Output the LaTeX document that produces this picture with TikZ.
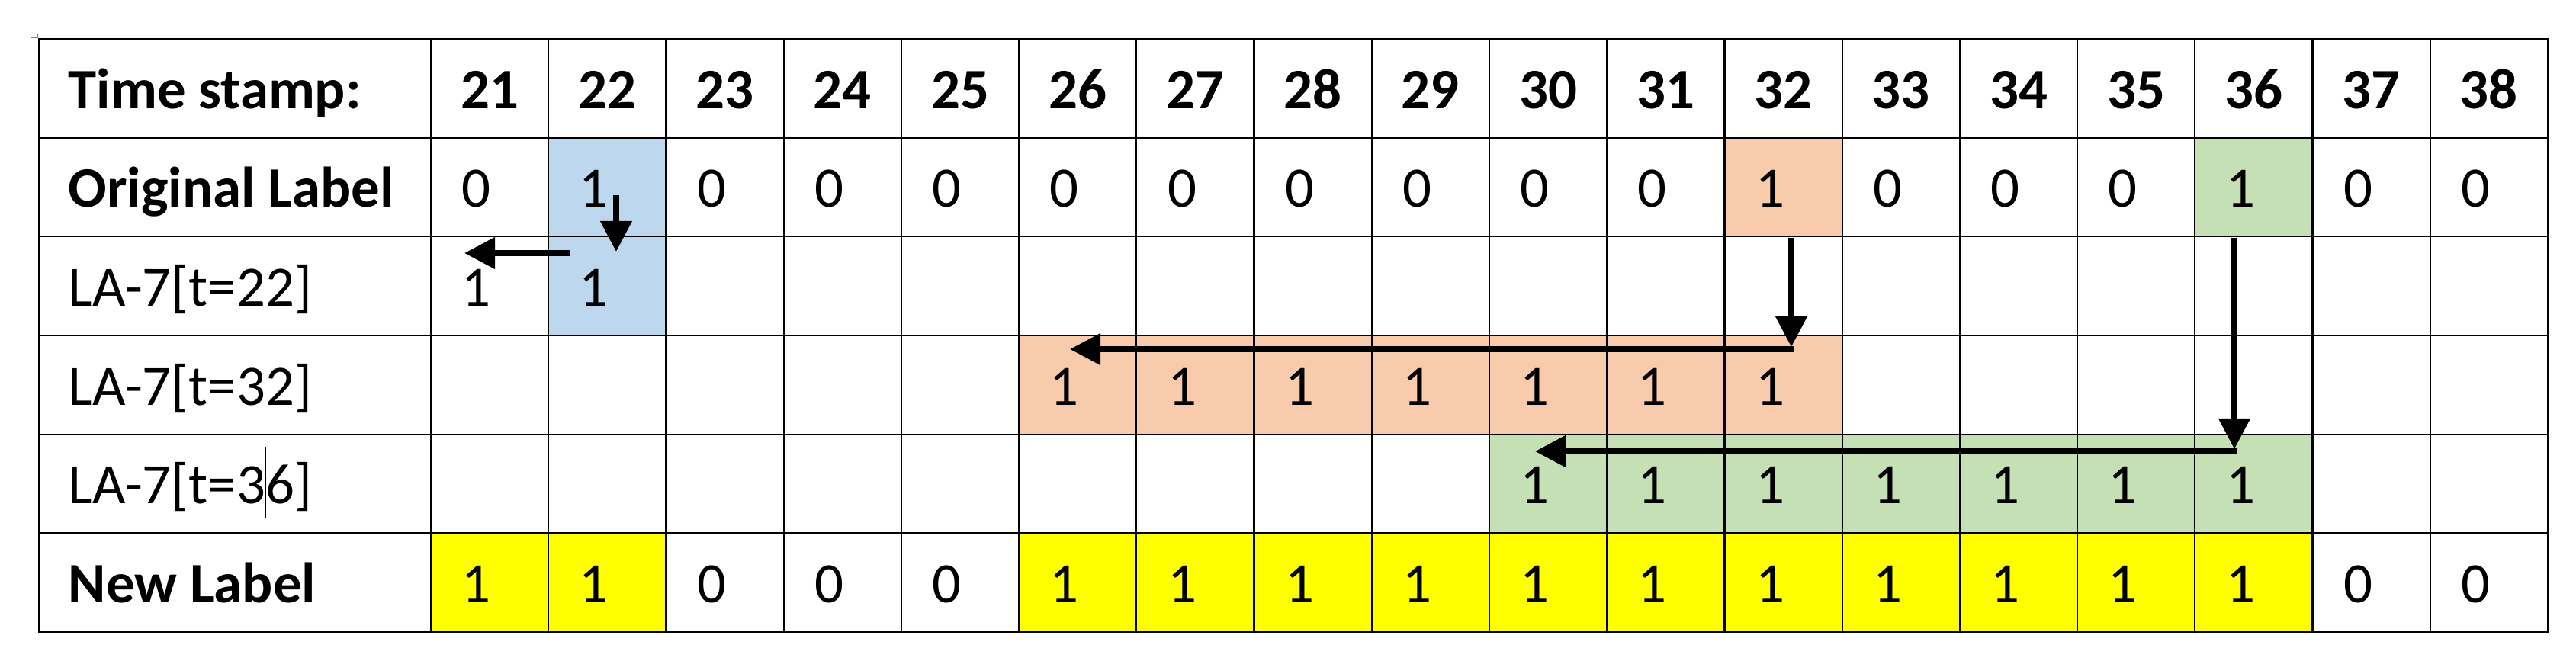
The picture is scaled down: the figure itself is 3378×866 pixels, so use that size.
\documentclass[tikz,border=0pt]{standalone}
\usepackage{fontspec}
\setmainfont{Carlito}
\usetikzlibrary{arrows.meta}
\definecolor{cblue}{RGB}{189,215,238}
\definecolor{corange}{RGB}{248,203,173}
\definecolor{cgreen}{RGB}{197,224,180}
\definecolor{cyellow}{RGB}{255,255,0}
\newcommand{\CX}[1]{565+#1*154.222}
\newcommand{\RY}[1]{51+#1*129.667}
\newcommand{\BY}[1]{142.3+#1*129.667}
\begin{document}
\begin{tikzpicture}[x=0.01cm,y=-0.01cm,
  gridline/.style={line width=0.022cm},
  outerline/.style={line width=0.028cm},
  lbl/.style={anchor=base west,inner sep=0pt,font=\fontsize{21.3pt}{25pt}\selectfont},
  hdr/.style={anchor=base,inner sep=0pt,font=\fontsize{21.3pt}{25pt}\selectfont\bfseries},
  val/.style={anchor=base west,inner sep=0pt,font=\fontsize{21.3pt}{25pt}\selectfont},
  arr/.style={line width=0.075cm,-{Triangle[length=0.4cm,width=0.4cm]}},
]
\useasboundingbox (0,0) rectangle (3378,866);
% fills
\fill[cblue] (\CX{1},\RY{1}) rectangle (\CX{2},\RY{3});
\fill[corange] (\CX{11},\RY{1}) rectangle (\CX{12},\RY{2});
\fill[corange] (\CX{5},\RY{3}) rectangle (\CX{12},\RY{4});
\fill[cgreen] (\CX{15},\RY{1}) rectangle (\CX{16},\RY{2});
\fill[cgreen] (\CX{9},\RY{4}) rectangle (\CX{16},\RY{5});
\fill[cyellow] (\CX{0},\RY{5}) rectangle (\CX{2},\RY{6});
\fill[cyellow] (\CX{5},\RY{5}) rectangle (\CX{16},\RY{6});
% grid
\foreach \i in {1,...,5} \draw[gridline] (51,\RY{\i}) -- (3341,\RY{\i});
\foreach \c in {0,...,17} \draw[gridline] (\CX{\c},51) -- (\CX{\c},829);
\draw[outerline] (51,51) rectangle (3341,829);
\draw[gray,line width=0.012cm] (41,49) -- (49.5,49) -- (49.5,44);
% row labels
\node[lbl,font=\fontsize{21.3pt}{25pt}\selectfont\bfseries] (lh) at (89,\BY{0}) {Time stamp:};
\node[lbl,font=\fontsize{21.3pt}{25pt}\selectfont\bfseries] (lo) at (89,\BY{1}) {Original Label};
\node[lbl] (la) at (89,\BY{2}) {LA-7[t=22]};
\node[lbl] (lb) at (89,\BY{3}) {LA-7[t=32]};
\node[lbl] (lc) at (89,\BY{4}) {LA-7[t=3\makebox[0pt]{\rule[-0.19cm]{0.018cm}{0.94cm}}6]};
\node[lbl,font=\fontsize{21.3pt}{25pt}\selectfont\bfseries] (ln) at (89,\BY{5}) {New Label};
% header numbers
\foreach \c [evaluate=\c as \t using int(21+\c)] in {0,...,17}
  \node[hdr] (h\c) at (\CX{\c}+77.1,\BY{0}) {\t};
% original label
\foreach \v [count=\c from 0] in {0,1,0,0,0,0,0,0,0,0,0,1,0,0,0,1,0,0}
  \node[val] (o\c) at (\CX{\c}+40,\BY{1}) {\v};
% LA rows
\foreach \c in {0,1} \node[val] (a\c) at (\CX{\c}+40,\BY{2}) {1};
\foreach \c in {5,...,11} \node[val] (b\c) at (\CX{\c}+40,\BY{3}) {1};
\foreach \c in {9,...,15} \node[val] (g\c) at (\CX{\c}+40,\BY{4}) {1};
% new label
\foreach \v [count=\c from 0] in {1,1,0,0,0,1,1,1,1,1,1,1,1,1,1,1,0,0}
  \node[val] (n\c) at (\CX{\c}+40,\BY{5}) {\v};
% arrows
\coordinate (bvs) at (808,256);
\coordinate (bve) at (808,330);
\coordinate (bhs) at (748,332);
\coordinate (bhe) at (609,332);
\coordinate (ovs) at (2349,312);
\coordinate (ove) at (2349,455);
\coordinate (ohs) at (2352.5,458);
\coordinate (ohe) at (1403,458);
\coordinate (gvs) at (2930,312);
\coordinate (gve) at (2930,589);
\coordinate (ghs) at (2933.5,592);
\coordinate (ghe) at (2013,592);
\draw[arr] (bvs) -- (bve);
\draw[arr] (bhs) -- (bhe);
\draw[arr] (ovs) -- (ove);
\draw[arr] (ohs) -- (ohe);
\draw[arr] (gvs) -- (gve);
\draw[arr] (ghs) -- (ghe);
\end{tikzpicture}
\end{document}
